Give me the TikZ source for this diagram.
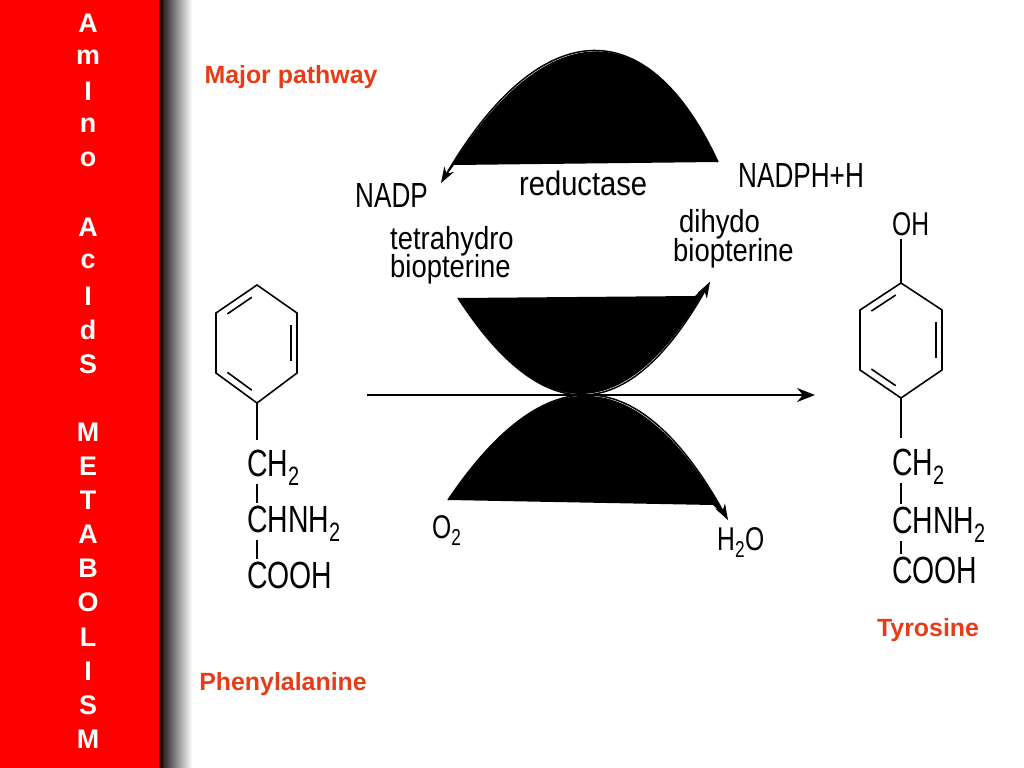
\documentclass[tikz,border=0pt]{standalone}
\usepackage{fontspec}
\setmainfont{Liberation Sans}
\newfontfamily\chemcaps[FakeStretch=0.75]{Liberation Sans}
\newfontfamily\chemsmall[FakeStretch=0.86]{Liberation Sans}
\usetikzlibrary{arrows.meta,calc}
\definecolor{barred}{RGB}{255,0,0}
\definecolor{labelred}{RGB}{232,60,22}

\begin{document}
\begin{tikzpicture}[x=1bp,y=-1bp,
  barletter/.style={text=white,font=\bfseries\fontsize{27}{30}\selectfont},
  tag/.style={text=labelred,font=\bfseries\fontsize{25}{30}\selectfont},
  chem/.style={inner sep=0,anchor=base west,font=\chemcaps\fontsize{38}{42}\selectfont},
  cof/.style={chem,font=\chemcaps\fontsize{35}{40}\selectfont},
  oxy/.style={chem,font=\chemcaps\fontsize{33}{36}\selectfont},
  enz/.style={inner sep=0,anchor=base west,font=\chemsmall\fontsize{32}{36}\selectfont},
  bond/.style={line width=1.6},
  react/.style={line width=2,-{Stealth[length=18,width=14]}},
  blobarrow/.style={line width=1.5,-{Stealth[length=16,width=11]}}]
  \useasboundingbox (0,0) rectangle (1024,768);

  % Side bar
  \fill[barred] (0,0) rectangle (160,768);
  \fill[black!80!red] (159,0) rectangle (163,768);
  \shade[left color=black!85,right color=white] (163,0) rectangle (192,768);
  \foreach \ch [count=\i from 0] in {A,m,I,n,o,{},A,c,I,d,S,{},M,E,T,A,B,O,L,I,S,M}
    \node[barletter] (bar\i) at (88,{23+34.1*\i}) {\ch};

  % Labels
  \node[tag] (major) at (291,77) {Major pathway};
  \node[tag] (phename) at (283,684) {Phenylalanine};
  \node[tag] (tyrname) at (928,630) {Tyrosine};

  % Rings
  \coordinate (phe0) at (257,343);
  \coordinate (phe1) at (257,285);
  \coordinate (phe2) at (297,313);
  \coordinate (phe3) at (297,373);
  \coordinate (phe4) at (257,403);
  \coordinate (phe5) at (216,373);
  \coordinate (phe6) at (216,313);
  \coordinate (tyr0) at (901,340);
  \coordinate (tyr1) at (901,283);
  \coordinate (tyr2) at (942,310);
  \coordinate (tyr3) at (942,370);
  \coordinate (tyr4) at (901,398);
  \coordinate (tyr5) at (860,370);
  \coordinate (tyr6) at (860,310);
  \foreach \m in {phe,tyr} {
    \draw[bond] (\m1) -- (\m2) -- (\m3) -- (\m4) -- (\m5) -- (\m6) -- cycle;
    \foreach \a/\b in {6/1,2/3,4/5}
      \draw[bond] ($(\m\a)!.15!(\m\b)!.15!(\m0)$) -- ($(\m\b)!.15!(\m\a)!.15!(\m0)$);
  }

  % Side chains
  \node[chem] (phech2) at (247,476) {CH\textsubscript{2}};
  \node[chem] (phechn) at (247,532) {CHNH\textsubscript{2}};
  \node[chem] (phecooh) at (247,588) {COOH};
  \node[oxy] (tyroh) at (892,235) {OH};
  \node[chem] (tyrch2) at (892,475) {CH\textsubscript{2}};
  \node[chem] (tyrchn) at (892,533) {CHNH\textsubscript{2}};
  \node[chem] (tyrcooh) at (892,583) {COOH};
  \draw[bond,shorten >=9] (phe4) -- (phe4 |- phech2.north);
  \draw[bond,shorten <=-2,shorten >=2] (phech2.south -| phe4) -- (phechn.north -| phe4);
  \draw[bond,shorten <=-2,shorten >=2] (phechn.south -| phe4) -- (phecooh.north -| phe4);
  \draw[bond,shorten <=3] (tyroh.south -| tyr1) -- (tyr1);
  \draw[bond,shorten >=10] (tyr4) -- (tyr4 |- tyrch2.north);
  \draw[bond,shorten <=-2,shorten >=2] (tyrch2.south -| tyr4) -- (tyrchn.north -| tyr4);
  \draw[bond,shorten <=-2,shorten >=2] (tyrchn.south -| tyr4) -- (tyrcooh.north -| tyr4);

  % Cofactors
  \node[cof] (nadp) at (355,207) {NADP};
  \node[cof] (nadph) at (738,187) {NADPH+H};
  \node[enz,font=\chemsmall\fontsize{34}{38}\selectfont] (reductase) at (519,195) {reductase};
  \node[enz] (thb1) at (390,249) {tetrahydro};
  \node[enz] (thb2) at (390,277) {biopterine};
  \node[enz] (dhb1) at (679,232) {dihydo};
  \node[enz] (dhb2) at (673,261) {biopterine};
  \node[oxy] (otwo) at (432,538) {O\textsubscript{2}};
  \node[oxy] (water) at (717,550) {H\textsubscript{2}O};

  % Reductase loop
  \coordinate (redin) at (718,162);
  \coordinate (redout) at (441,183);
  \fill (redin) .. controls (645,5) and (538,18) .. (redout) -- (454,165) -- cycle;
  \draw[blobarrow] (redin) .. controls (645,5) and (538,18) .. (redout);

  % Biopterine loop
  \coordinate (bhin) at (458,298);
  \coordinate (bhout) at (710,282);
  \fill (bhin) .. controls (543,429) and (627,428) .. (bhout) -- (695,296) -- cycle;
  \draw[blobarrow] (bhin) .. controls (543,429) and (627,428) .. (bhout);

  % Oxygen loop
  \coordinate (oxin) at (448,500);
  \coordinate (oxout) at (728,520);
  \fill (oxin) .. controls (546,355) and (639,361) .. (oxout) -- (713,505) -- cycle;
  \draw[blobarrow] (oxin) .. controls (546,355) and (639,361) .. (oxout);

  % Main reaction
  \coordinate (rxnL) at (367,395);
  \coordinate (rxnR) at (815,395);
  \draw[react] (rxnL) -- (rxnR);
\end{tikzpicture}
\end{document}
